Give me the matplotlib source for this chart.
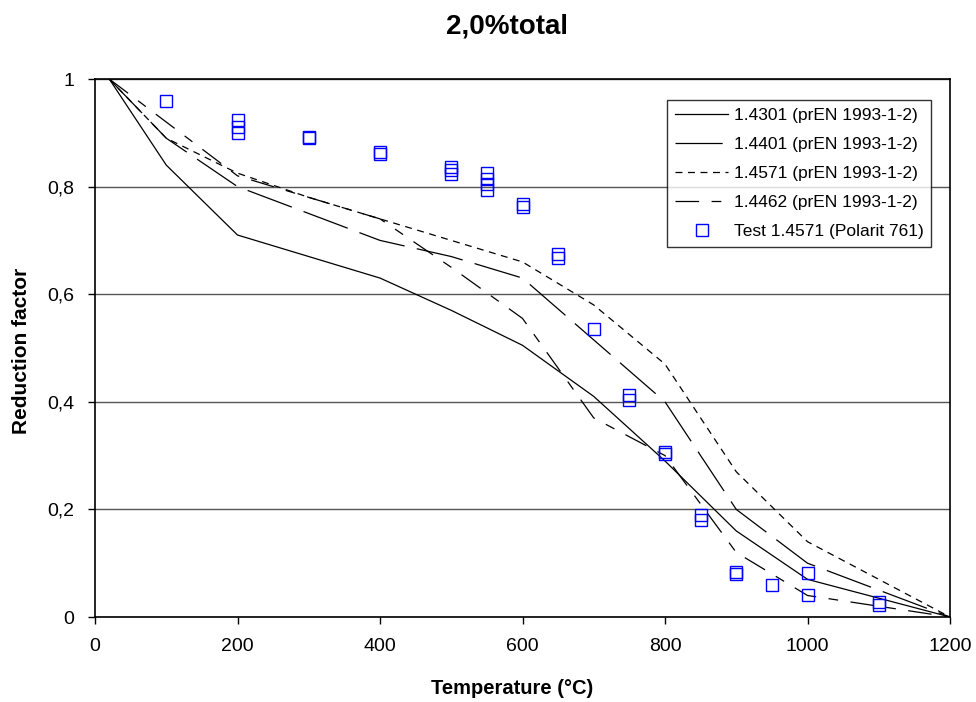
import numpy as np
import matplotlib.pyplot as plt

plt.rcParams['font.family'] = ['Liberation Sans', 'DejaVu Sans']
plt.rcParams['lines.scale_dashes'] = False

# temperatures of the design curves
temps = [20, 100, 200, 300, 400, 500, 600, 700, 800, 900, 1000, 1100, 1200]

# reduction factors
k_14301 = [1.0, 0.84, 0.71, 0.67, 0.63, 0.57, 0.505, 0.41, 0.29, 0.16, 0.07, 0.035, 0.0]
k_14401 = [1.0, 0.89, 0.80, 0.75, 0.70, 0.67, 0.63, 0.515, 0.40, 0.20, 0.10, 0.05, 0.0]
k_14571 = [1.0, 0.89, 0.825, 0.78, 0.74, 0.70, 0.66, 0.58, 0.47, 0.27, 0.14, 0.07, 0.0]
k_14462 = [1.0, 0.92, 0.82, 0.78, 0.74, 0.65, 0.555, 0.37, 0.30, 0.12, 0.04, 0.02, 0.0]

# test results
test_t = [100, 200, 200, 200, 300, 300, 400, 400, 500, 500, 500, 550, 550, 550, 550,
          600, 600, 650, 650, 700, 750, 750, 800, 800, 850, 850, 900, 900, 950,
          1000, 1000, 1100, 1100]
test_k = [0.96, 0.924, 0.911, 0.90, 0.893, 0.89, 0.864, 0.86, 0.836, 0.83, 0.824,
          0.825, 0.814, 0.805, 0.794, 0.768, 0.762, 0.675, 0.668, 0.535, 0.413, 0.404,
          0.307, 0.303, 0.19, 0.18, 0.083, 0.079, 0.06, 0.082, 0.041, 0.027, 0.023]

fig = plt.figure(figsize=(9.76, 7.02), dpi=100)
ax = fig.add_axes([95/976, 1 - 617/702, 855/976, 538/702])

lw = 0.9
ax.plot(temps, k_14301, color='black', lw=lw, label='1.4301 (prEN 1993-1-2)')
ax.plot(temps, k_14401, color='black', lw=lw, dashes=(34, 9), label='1.4401 (prEN 1993-1-2)')
ax.plot(temps, k_14571, color='black', lw=lw, dashes=(5, 4), label='1.4571 (prEN 1993-1-2)')
ax.plot(temps, k_14462, color='black', lw=lw, dashes=(17, 9, 7, 9), label='1.4462 (prEN 1993-1-2)')
ax.plot(test_t, test_k, linestyle='none', marker='s', markersize=8.5, markerfacecolor='none',
        markeredgecolor='#0000ff', markeredgewidth=1.0, label='Test 1.4571 (Polarit 761)')

ax.set_xlim(0, 1200)
ax.set_ylim(0, 1)
ax.set_xticks(np.arange(0, 1201, 200))
ax.set_yticks(np.arange(0, 1.01, 0.2))
ax.set_yticklabels(['0', '0,2', '0,4', '0,6', '0,8', '1'])
ax.tick_params(direction='out', length=5, width=1, labelsize=14, color='black')
ax.tick_params(axis='x', pad=10)
ax.tick_params(axis='y', pad=10)
ax.yaxis.grid(True, color='#555555', lw=1)
ax.set_axisbelow(True)
for s in ax.spines.values():
    s.set_linewidth(1.2)
    s.set_color('black')

fig.text(507/976, 1 - 27/702, '2,0%total', ha='center', va='center', fontsize=20, fontweight='bold')
fig.text(512/976, 1 - 688/702, 'Temperature (°C)', ha='center', va='center', fontsize=14.5, fontweight='bold')
fig.text(22/976, 1 - 351/702, 'Reduction factor', ha='center', va='center', rotation=90,
         fontsize=15, fontweight='bold')

leg = ax.legend(loc='upper right', bbox_to_anchor=(0.978, 0.961), fontsize=12.5, frameon=True,
                fancybox=False, handlelength=3.1, borderaxespad=0, labelspacing=0.8,
                handletextpad=0.3, borderpad=0.45)
leg.get_frame().set_edgecolor('black')
leg.get_frame().set_linewidth(1)

fig.savefig('out.png', dpi=100)
